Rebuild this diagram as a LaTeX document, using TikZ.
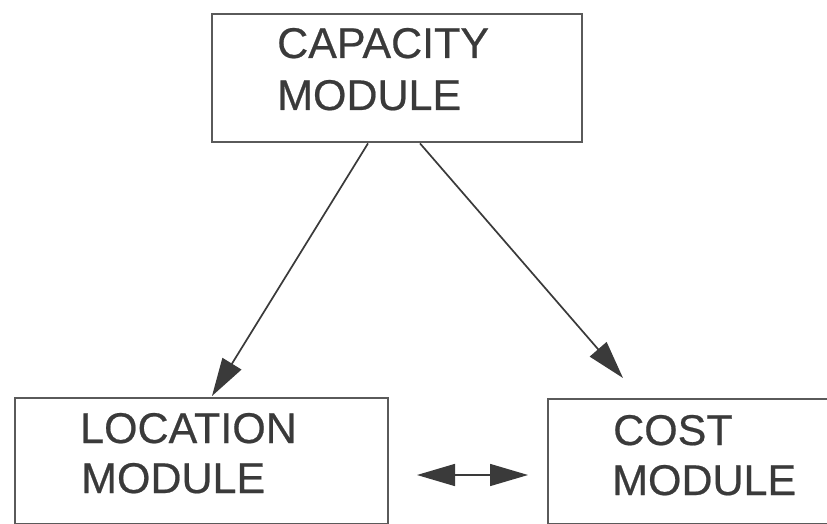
\documentclass[tikz,border=0pt]{standalone}
\usepackage{fontspec}
\setmainfont{Liberation Sans}[FakeBold=0.5]
\usetikzlibrary{arrows.meta,calc}
\definecolor{ink}{HTML}{3A3A3A}
\definecolor{boxline}{HTML}{5A5A5A}
\tikzset{
  modbox/.style={draw=boxline, line width=2.4pt, fill=none, rectangle, inner sep=0pt, anchor=north west},
  lbl/.style={anchor=base west, inner sep=0pt, text=ink, font=\fontsize{43}{50}\selectfont},
  arr/.style={draw=ink, line width=1.7pt, -{Triangle[length=38pt,width=22pt]}},
  darr/.style={draw=ink, line width=1.5pt, {Triangle[length=38pt,width=22pt]}-{Triangle[length=38pt,width=22pt]}}
}
\begin{document}
\begin{tikzpicture}[x=1pt,y=-1pt]
\clip (0,0) rectangle (827,524);
\fill[white] (0,0) rectangle (827,524);
% boxes
\node[modbox, minimum width=370pt, minimum height=128pt] (cap) at (211,13) {};
\node[modbox, minimum width=373pt, minimum height=126pt] (loc) at (14,397) {};
\node[modbox, minimum width=320pt, minimum height=125pt] (cost) at (547,398) {};
% labels
\node[lbl] (capA) at (277,58) {CAPACITY};
\node[lbl] (capB) at (277,110) {MODULE};
\node[lbl] (locA) at (80,443) {LOCATION};
\node[lbl] (locB) at (81,493) {MODULE};
\node[lbl] (costA) at (613,445) {COST};
\node[lbl] (costB) at (612,495) {MODULE};
% connector points
\path (cap.south west) ++(157,0) coordinate (capL);
\path (cap.south west) ++(209,0) coordinate (capR);
\path (loc.north west) ++(198,-1) coordinate (locT);
\coordinate (costT) at (623,378);
\coordinate (dL) at (417,475);
\coordinate (dR) at (528,475);
% arrows
\draw[arr] (capL) -- (locT);
\draw[arr] (capR) -- (costT);
\draw[darr] (dL) -- (dR);
\end{tikzpicture}
\end{document}
